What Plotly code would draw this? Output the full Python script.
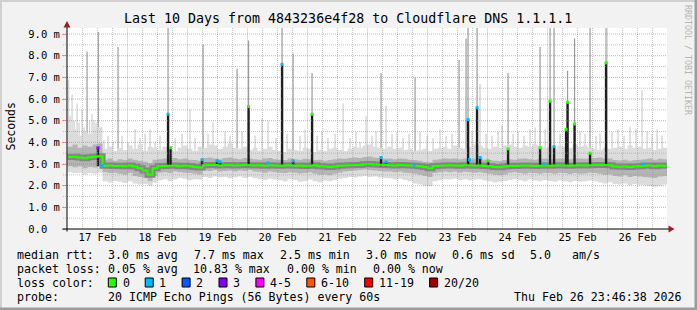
import plotly.graph_objects as go
import pandas as pd

# ---------------- data ----------------
WINDOW_START = "2026-02-16 23:46:38"
WINDOW_END = "2026-02-26 23:46:38"
COLUMN_START = "2026-02-17 00:00"   # 2-hour columns
day_labels = ["17 Feb", "18 Feb", "19 Feb", "20 Feb", "21 Feb",
              "22 Feb", "23 Feb", "24 Feb", "25 Feb", "26 Feb"]
y_ticks = [0, 1, 2, 3, 4, 5, 6, 7, 8, 9]
y_ticktext = ["0.0\u00a0\u00a0", "1.0 m", "2.0 m", "3.0 m", "4.0 m",
              "5.0 m", "6.0 m", "7.0 m", "8.0 m", "9.0 m"]

# median rtt (ms) per 2-hour column
median_ms = [3.32, 3.34, 3.30, 3.27, 3.31, 3.33, 3.36,
             2.92, 2.93, 2.91, 2.92, 2.90, 2.93,
             2.88, 2.80, 2.70, 2.50, 2.80,
             2.90, 2.91, 2.92, 2.93, 2.90, 2.92, 2.90, 2.86, 2.84,
             2.94, 2.96, 2.95, 2.93, 2.94, 2.95, 2.93, 2.94, 2.95, 2.94, 2.93, 2.94, 2.92, 2.94, 2.93,
             2.92, 2.93, 2.94, 2.92, 2.93, 2.91, 2.92, 2.94, 2.90, 2.88, 2.86, 2.89, 2.92, 2.93, 2.94, 2.95, 2.96,
             2.99, 3.00, 2.98, 2.97, 2.95,
             2.94, 2.93, 2.95, 2.94, 2.93, 2.92, 2.90, 2.86,
             2.80,
             2.90, 2.92, 2.93, 2.94, 2.93, 2.92, 2.94, 2.93, 2.92, 2.93, 2.91, 2.90,
             2.86, 2.85, 2.88,
             2.92, 2.91, 2.92, 2.93, 2.92, 2.91, 2.92, 2.93, 2.92, 2.93, 2.94, 2.93, 2.92, 2.93, 2.94, 2.93, 2.94,
             2.95, 2.96, 2.95, 2.94,
             2.88, 2.87, 2.89, 2.86, 2.88, 2.90,
             2.92, 2.93, 2.90, 2.93, 2.92, 2.92]

# outer (light) smoke per column
smoke_outer_low = [2.62, 2.58, 2.60, 2.52, 2.58, 2.55, 2.60,
                   2.20, 2.15, 2.22, 2.18, 2.12, 2.20,
                   2.10, 2.05, 2.08, 2.00, 2.15,
                   2.25, 2.30, 2.20, 2.28, 2.35, 2.32, 2.25, 2.30, 2.28,
                   2.40, 2.35, 2.42, 2.38, 2.40, 2.34, 2.38, 2.42, 2.36, 2.40, 2.34, 2.30, 2.26, 2.32, 2.28,
                   2.25, 2.20, 2.30, 2.26, 2.18, 2.22, 2.28, 2.20, 2.16, 2.24, 2.20, 2.26, 2.32, 2.35, 2.40, 2.38, 2.42,
                   2.45, 2.40, 2.42, 2.38, 2.36,
                   2.34, 2.30, 2.32, 2.26, 2.20, 2.10, 2.05, 2.00,
                   1.98,
                   2.20, 2.25, 2.30, 2.28, 2.32, 2.26, 2.30, 2.25, 2.28, 2.30, 2.24, 2.20,
                   2.15, 2.18, 2.22,
                   2.26, 2.30, 2.25, 2.20, 2.28, 2.24, 2.20, 2.26, 2.22, 2.18, 2.24, 2.20, 2.16, 2.22, 2.18, 2.20, 2.24,
                   2.20, 2.15, 2.10, 2.16,
                   2.08, 2.05, 2.10, 2.02, 2.08, 2.04,
                   2.02, 1.98, 1.95, 2.00, 2.05, 2.08]
smoke_outer_high = [4.40, 4.60, 4.30, 4.50, 4.40, 4.60, 4.70,
                    3.70, 3.80, 3.60, 3.75, 3.65, 3.85,
                    3.70, 3.90, 3.60, 3.80, 3.75,
                    3.65, 3.80, 3.70, 3.60, 3.75, 3.85, 3.70, 3.60, 3.80,
                    3.75, 3.90, 3.85, 3.70, 3.80, 3.95, 3.75, 3.70, 3.80, 3.65, 3.75, 3.60, 3.70, 3.80, 3.65,
                    3.60, 3.55, 3.70, 3.65, 3.60, 3.75, 3.70, 3.55, 3.65, 3.60, 3.70, 3.75, 3.65, 3.60, 3.70, 3.80, 3.75,
                    3.85, 3.90, 3.80, 3.75, 3.70,
                    3.80, 3.70, 3.75, 3.65, 3.70, 3.60, 3.65, 3.70,
                    3.60,
                    3.70, 3.75, 3.80, 3.70, 3.85, 3.75, 3.70, 3.80, 3.90, 3.85, 3.75, 3.70,
                    3.80, 3.75, 3.85,
                    3.90, 3.80, 3.75, 3.85, 3.80, 3.90, 3.85, 3.75, 3.80, 3.70, 3.85, 3.80, 3.75, 3.90, 3.80, 3.85, 3.75,
                    3.70, 3.65, 3.75, 3.70,
                    3.75, 3.80, 3.70, 3.85, 3.75, 3.80,
                    3.70, 3.75, 3.65, 3.70, 3.75, 3.70]
# inner (darker) smoke per column
smoke_inner_low = [2.90, 2.85, 2.88, 2.80, 2.86, 2.84, 2.90,
                   2.62, 2.58, 2.60, 2.55, 2.50, 2.58,
                   2.45, 2.40, 2.35, 2.20, 2.45,
                   2.60, 2.62, 2.58, 2.65, 2.62, 2.60, 2.58, 2.55, 2.52,
                   2.70, 2.68, 2.72, 2.65, 2.68, 2.70, 2.66, 2.70, 2.68, 2.72, 2.66, 2.64, 2.60, 2.65, 2.62,
                   2.60, 2.58, 2.62, 2.60, 2.56, 2.58, 2.62, 2.55, 2.50, 2.52, 2.48, 2.55, 2.60, 2.65, 2.68, 2.70, 2.72,
                   2.75, 2.72, 2.70, 2.68, 2.66,
                   2.65, 2.62, 2.64, 2.60, 2.58, 2.55, 2.50, 2.45,
                   2.40,
                   2.58, 2.62, 2.65, 2.62, 2.66, 2.60, 2.64, 2.62, 2.60, 2.62, 2.58, 2.55,
                   2.50, 2.48, 2.52,
                   2.60, 2.62, 2.58, 2.55, 2.60, 2.58, 2.55, 2.60, 2.58, 2.55, 2.60, 2.58, 2.54, 2.58, 2.55, 2.56, 2.60,
                   2.58, 2.55, 2.50, 2.52,
                   2.45, 2.42, 2.48, 2.40, 2.45, 2.42,
                   2.40, 2.38, 2.35, 2.42, 2.45, 2.48]
smoke_inner_high = [3.80, 3.90, 3.75, 3.85, 3.80, 3.90, 3.95,
                    3.20, 3.25, 3.15, 3.22, 3.18, 3.25,
                    3.20, 3.15, 3.10, 3.05, 3.20,
                    3.22, 3.25, 3.20, 3.28, 3.22, 3.25, 3.20, 3.18, 3.15,
                    3.28, 3.30, 3.25, 3.22, 3.28, 3.30, 3.25, 3.22, 3.28, 3.25, 3.22, 3.20, 3.25, 3.28, 3.22,
                    3.20, 3.18, 3.25, 3.22, 3.20, 3.24, 3.22, 3.18, 3.20, 3.15, 3.18, 3.22, 3.25, 3.24, 3.28, 3.30, 3.28,
                    3.32, 3.35, 3.30, 3.28, 3.26,
                    3.25, 3.22, 3.26, 3.24, 3.20, 3.18, 3.15, 3.10,
                    3.08,
                    3.20, 3.22, 3.25, 3.24, 3.26, 3.22, 3.25, 3.22, 3.24, 3.25, 3.20, 3.18,
                    3.15, 3.14, 3.18,
                    3.22, 3.20, 3.24, 3.25, 3.22, 3.20, 3.24, 3.25, 3.22, 3.24, 3.26, 3.24, 3.22, 3.25, 3.26, 3.24, 3.25,
                    3.28, 3.30, 3.26, 3.25,
                    3.18, 3.16, 3.20, 3.15, 3.18, 3.20,
                    3.22, 3.25, 3.20, 3.24, 3.22, 3.22]

# short light smoke spikes (time, top ms)
light_spike_time = ["02-17 00:24", "02-17 01:00", "02-17 01:48", "02-17 02:36", "02-17 03:48", "02-17 04:36",
                    "02-17 05:48", "02-17 06:36", "02-17 08:48", "02-17 09:48", "02-17 10:36", "02-17 11:24",
                    "02-17 14:36", "02-17 16:12", "02-17 18:12", "02-17 21:48", "02-18 00:12", "02-18 03:00",
                    "02-18 05:00", "02-18 07:00", "02-18 09:00", "02-18 11:00", "02-18 13:00", "02-18 19:00",
                    "02-18 21:48", "02-19 01:00", "02-19 03:00", "02-19 08:12", "02-19 10:12", "02-19 15:00",
                    "02-19 17:00", "02-19 21:48", "02-20 03:00", "02-20 05:48", "02-20 08:12", "02-20 11:24",
                    "02-20 15:48", "02-20 21:00", "02-20 23:00", "02-21 03:48", "02-21 05:48", "02-21 08:12",
                    "02-21 11:00", "02-21 14:12", "02-21 17:00", "02-21 19:24", "02-21 21:00", "02-21 23:24",
                    "02-22 01:48", "02-22 03:24", "02-22 07:24", "02-22 09:48", "02-22 11:48", "02-22 14:12",
                    "02-22 16:36", "02-22 21:00", "02-22 23:48", "02-23 02:12", "02-23 05:00", "02-23 07:24",
                    "02-23 09:48", "02-23 17:48", "02-23 21:00", "02-23 23:24", "02-24 01:48", "02-24 04:12",
                    "02-24 05:48", "02-24 10:12", "02-24 12:12", "02-24 14:36", "02-24 17:00", "02-24 19:00",
                    "02-24 23:00", "02-25 05:00", "02-25 13:00", "02-25 15:00", "02-25 19:24", "02-25 21:00",
                    "02-26 01:48", "02-26 04:12", "02-26 06:36", "02-26 09:00", "02-26 11:24", "02-26 13:48",
                    "02-26 15:48", "02-26 17:48", "02-26 19:48", "02-26 21:48"]
light_spike_top = [6.9, 5.2, 6.2, 5.0, 5.8, 4.9,
                   5.5, 4.7, 5.0, 5.3, 5.0, 4.9,
                   4.1, 4.3, 4.0, 4.3, 4.0, 4.6,
                   4.2, 4.4, 4.6, 4.0, 4.3, 4.2,
                   4.4, 5.5, 4.2, 4.4, 4.9, 4.5,
                   4.3, 4.5, 4.3, 5.1, 5.0, 4.2,
                   4.4, 4.3, 4.6, 4.3, 4.5, 4.2,
                   4.4, 5.8, 4.2, 4.5, 4.0, 5.2,
                   4.3, 4.5, 5.7, 4.4, 4.5, 4.2,
                   4.4, 4.5, 4.3, 4.2, 4.6, 4.3,
                   4.4, 4.5, 6.7, 4.4, 4.3, 4.5,
                   4.8, 4.4, 4.5, 4.3, 4.6, 4.7,
                   4.6, 4.4, 4.5, 4.4, 4.3, 4.4,
                   4.5, 4.6, 4.3, 4.7, 4.6, 6.4,
                   4.5, 4.4, 4.6, 4.3]

# tall smoke spikes (time, top ms)
tall_spike_time = ["02-17 07:48", "02-17 12:18", "02-17 20:12", "02-18 16:12", "02-19 06:12", "02-19 19:48",
                   "02-20 00:24", "02-20 13:48", "02-20 18:12", "02-21 01:48", "02-22 05:24", "02-22 19:00",
                   "02-23 12:36", "02-23 15:24", "02-23 16:12", "02-23 19:48", "02-24 08:12", "02-24 21:00",
                   "02-25 01:00", "02-25 02:36", "02-25 08:00", "02-25 10:48", "02-25 17:00", "02-25 23:24"]
tall_spike_top = [8.2, 9.1, 8.4, 9.3, 8.5, 7.4,
                  8.7, 9.3, 8.1, 7.2, 7.2, 7.0,
                  7.8, 8.8, 9.3, 9.3, 7.2, 8.4,
                  9.3, 9.3, 7.3, 8.8, 9.3, 9.3]

# median spikes (dense smoke bars) with their loss class
spike_time = ["02-17 12:10", "02-18 16:12", "02-18 17:12", "02-19 05:48", "02-19 11:48", "02-19 13:00",
              "02-20 00:24", "02-20 13:48", "02-20 18:12", "02-21 01:48", "02-22 05:24", "02-22 07:24",
              "02-23 16:12", "02-23 19:48", "02-23 21:00", "02-24 00:12", "02-24 08:12", "02-24 21:00",
              "02-25 01:00", "02-25 02:36", "02-25 07:24", "02-25 08:00", "02-25 10:48", "02-25 17:00",
              "02-25 23:24"]
spike_median = [3.75, 5.3, 3.75, 3.2, 3.15, 3.1,
                5.65, 7.6, 3.15, 5.3, 3.3, 3.1,
                5.05, 5.6, 3.3, 3.15, 3.7, 3.75,
                5.9, 3.8, 4.6, 5.85, 4.85, 3.5,
                7.67]
spike_loss = ["3", "1", "0", "1", "1", "1",
              "0", "1", "1", "0", "1", "1",
              "1", "1", "1", "0", "0", "0",
              "0", "1", "0", "0", "0", "0",
              "0"]

# single lossy samples on the median line
loss_dot_time = ["02-17 13:48", "02-20 08:12", "02-22 18:36", "02-23 16:48", "02-24 22:36", "02-26 14:12"]
loss_dot_value = [2.92, 3.05, 2.95, 3.2, 3.0, 3.0]
loss_dot_loss = ["1", "1", "1", "1", "1", "1"]

loss_labels = ["0", "1", "2", "3", "4-5", "6-10", "11-19", "20/20"]
loss_colors = ["#26ff00", "#00b8ff", "#0059ff", "#7e00ff", "#ff00ff", "#ff5500", "#ff0000", "#a10000"]

stats_rtt = ["3.0 ms avg", "7.7 ms max", "2.5 ms min", "3.0 ms now", "0.6 ms sd", "5.0", "am/s"]
stats_loss = ["0.05 % avg", "10.83 % max", "0.00 % min", "0.00 % now"]
probe_text = "20 ICMP Echo Pings (56 Bytes) every 60s"
stamp_text = "Thu Feb 26 23:46:38 2026"
title_text = "Last 10 Days from 4843236e4f28 to Cloudflare DNS 1.1.1.1"

# ---------------- layout geometry ----------------
W, H = 697, 310
ML, MR, MT, MB = 67, 30, 28, 81
PW, PH = W - ML - MR, H - MT - MB
Y_TOP = 9.28
MONO = "DejaVu Sans Mono"


def px(x):
    return (x - ML) / PW


def py(y):
    return (H - MB - y) / PH


def ts(s):
    return pd.Timestamp("2026-" + s)


columns = pd.date_range(COLUMN_START, periods=len(median_ms), freq="2h")
color_of = dict(zip(loss_labels, loss_colors))


def segments(times, tops, base):
    xs, ys = [], []
    for t, v in zip(times, tops):
        xs += [ts(t), ts(t), None]
        ys += [base, v, None]
    return xs, ys


fig = go.Figure()

# light spikes
xs, ys = segments(light_spike_time, light_spike_top, 3.3)
fig.add_trace(go.Scatter(x=xs, y=ys, mode="lines", line=dict(color="#d2d2d2", width=1.3),
                         hoverinfo="skip", showlegend=False))
xs, ys = segments(tall_spike_time, tall_spike_top, 3.3)
fig.add_trace(go.Scatter(x=xs, y=ys, mode="lines", line=dict(color="#9c9c9c", width=1.2),
                         hoverinfo="skip", showlegend=False))

# outer smoke
fig.add_trace(go.Scatter(x=columns, y=smoke_outer_low, mode="lines", line=dict(width=0, shape="hv"),
                         hoverinfo="skip", showlegend=False))
fig.add_trace(go.Scatter(x=columns, y=smoke_outer_high, mode="lines", line=dict(width=0, shape="hv"),
                         fill="tonexty", fillcolor="#dcdcdc", hoverinfo="skip", showlegend=False))
# inner smoke
fig.add_trace(go.Scatter(x=columns, y=smoke_inner_low, mode="lines", line=dict(width=0, shape="hv"),
                         hoverinfo="skip", showlegend=False))
fig.add_trace(go.Scatter(x=columns, y=smoke_inner_high, mode="lines", line=dict(width=0, shape="hv"),
                         fill="tonexty", fillcolor="#b4b4b4", hoverinfo="skip", showlegend=False))
# dense core around the median
fig.add_trace(go.Scatter(x=columns, y=median_ms, mode="lines", line=dict(color="#858585", width=6, shape="hv"),
                         hoverinfo="skip", showlegend=False))

# dense smoke bars of median spikes
xs, ys = segments(spike_time, spike_median, 2.9)
fig.add_trace(go.Scatter(x=xs, y=ys, mode="lines", line=dict(color="#1e1e1e", width=2.4),
                         hoverinfo="skip", showlegend=False))

# median line
fig.add_trace(go.Scatter(x=columns, y=median_ms, mode="lines", line=dict(color=loss_colors[0], width=2, shape="hv"),
                         hoverinfo="skip", showlegend=False))

# loss-coloured median samples
fig.add_trace(go.Scatter(x=[ts(t) for t in spike_time], y=spike_median, mode="markers",
                         marker=dict(symbol="square", size=3, color=[color_of[l] for l in spike_loss]),
                         hoverinfo="skip", showlegend=False))
fig.add_trace(go.Scatter(x=[ts(t) for t in loss_dot_time], y=loss_dot_value, mode="markers",
                         marker=dict(symbol="square", size=3, color=[color_of[l] for l in loss_dot_loss]),
                         hoverinfo="skip", showlegend=False))

# ---------------- grid (drawn above the smoke, like rrdtool) ----------------
shapes = []
MAJOR = "rgba(235,80,80,0.55)"
MINOR = "rgba(150,150,150,0.55)"
for k in range(1, 41):
    t = pd.Timestamp(COLUMN_START) + pd.Timedelta(hours=6 * k)
    if t >= pd.Timestamp(WINDOW_END):
        break
    major = (k % 4 == 0)
    shapes.append(dict(type="line", xref="x", yref="paper", x0=t, x1=t, y0=-0.012 if major else 0, y1=1,
                       line=dict(color=MAJOR if major else MINOR, width=1, dash="1px,1px"), layer="above"))
for k in range(1, 19):
    v = k * 0.5
    major = (k % 2 == 0)
    shapes.append(dict(type="line", xref="paper", yref="y", x0=px(63), x1=1, y0=v, y1=v,
                       line=dict(color=MAJOR if major else MINOR, width=1, dash="1px,1px"), layer="above"))

# axes lines and arrows
AX = "#000000"
shapes.append(dict(type="line", xref="paper", yref="paper", x0=px(62.5), x1=px(669), y0=0, y1=0,
                   line=dict(color=AX, width=1), layer="above"))
shapes.append(dict(type="line", xref="paper", yref="paper", x0=0, x1=0, y0=py(231.5), y1=py(26),
                   line=dict(color=AX, width=1), layer="above"))
ARROW = "#9a2020"
shapes.append(dict(type="path", xref="paper", yref="paper",
                   path=f"M {px(668.5)},{py(225.5)} L {px(668.5)},{py(232.5)} L {px(674.5)},{py(229)} Z",
                   fillcolor=ARROW, line=dict(width=0), layer="above"))
shapes.append(dict(type="path", xref="paper", yref="paper",
                   path=f"M {px(63.5)},{py(27.5)} L {px(70.5)},{py(27.5)} L {px(67)},{py(21)} Z",
                   fillcolor=ARROW, line=dict(width=0), layer="above"))

# frame
shapes.append(dict(type="rect", xref="paper", yref="paper", x0=px(0), x1=px(W), y0=py(0), y1=py(2),
                   fillcolor="#d0d0d0", line=dict(width=0), layer="above"))
shapes.append(dict(type="rect", xref="paper", yref="paper", x0=px(0), x1=px(2), y0=py(0), y1=py(H),
                   fillcolor="#d0d0d0", line=dict(width=0), layer="above"))
shapes.append(dict(type="rect", xref="paper", yref="paper", x0=px(0), x1=px(W), y0=py(H - 2.5), y1=py(H),
                   fillcolor="#9c9c9c", line=dict(width=0), layer="above"))
shapes.append(dict(type="rect", xref="paper", yref="paper", x0=px(W - 2.5), x1=px(W), y0=py(0), y1=py(H),
                   fillcolor="#9c9c9c", line=dict(width=0), layer="above"))

# legend colour boxes
annotations = []
LEG_Y = [254.5, 268.5, 282.5, 296.5]
bx = 108.3
for lab, col in zip(loss_labels, loss_colors):
    shapes.append(dict(type="rect", xref="paper", yref="paper", x0=px(bx), x1=px(bx + 8),
                       y0=py(LEG_Y[2] - 4.5), y1=py(LEG_Y[2] + 4.5),
                       fillcolor=col, line=dict(color="#000000", width=1), layer="above"))
    annotations.append((bx + 14, LEG_Y[2], lab))
    bx += 29.9 + 7 * len(lab)


def txt(x, y, s, size=11.6, color="#000000", angle=0, anchor="left"):
    return dict(xref="paper", yref="paper", x=px(x), y=py(y), text=s, showarrow=False,
                xanchor=anchor, yanchor="middle", textangle=angle,
                font=dict(family=MONO, size=size, color=color), borderpad=0)


ann = [txt(348, 18.5, title_text, size=13.3, anchor="center"),
       txt(10.5, 127, "Seconds", size=11.5, angle=-90, anchor="center"),
       txt(688, 60, "RRDTOOL / TOBI OETIKER", size=8.3, color="#b4b4b4", angle=90, anchor="center")]

ann.append(txt(15.5, LEG_Y[0], "median rtt:"))
for x0, s in zip([106.5, 193.2, 279.2, 365.2, 451, 529, 571.3], stats_rtt):
    ann.append(txt(x0, LEG_Y[0], s))
ann.append(txt(15.5, LEG_Y[1], "packet loss:"))
for x0, s in zip([106.5, 192.2, 286, 371.6], stats_loss):
    ann.append(txt(x0, LEG_Y[1], s))
ann.append(txt(15.5, LEG_Y[2], "loss color:"))
for x0, y0, s in annotations:
    ann.append(txt(x0 - 0.8, y0, s))
ann.append(txt(15.5, LEG_Y[3], "probe:"))
ann.append(txt(106.5, LEG_Y[3], probe_text))
ann.append(txt(513, LEG_Y[3], stamp_text))

noon = [pd.Timestamp(COLUMN_START) + pd.Timedelta(hours=12 + 24 * k) for k in range(len(day_labels))]

fig.update_layout(
    width=W, height=H,
    margin=dict(l=ML, r=MR, t=MT, b=MB, pad=0),
    paper_bgcolor="#f2f2f2", plot_bgcolor="#ffffff",
    shapes=shapes, annotations=ann, showlegend=False,
    xaxis=dict(type="date", range=[WINDOW_START, WINDOW_END], showgrid=False, zeroline=False,
               showline=False, tickvals=noon, ticktext=day_labels, ticks="",
               tickfont=dict(family=MONO, size=10.5, color="#000000"), fixedrange=True),
    yaxis=dict(range=[0, Y_TOP], showgrid=False, zeroline=False, showline=False,
               tickvals=y_ticks, ticktext=y_ticktext, ticks="outside", ticklen=4,
               tickcolor="rgba(235,80,80,0.55)",
               tickfont=dict(family=MONO, size=10.5, color="#000000"), fixedrange=True),
)

fig.write_html("out.html")
